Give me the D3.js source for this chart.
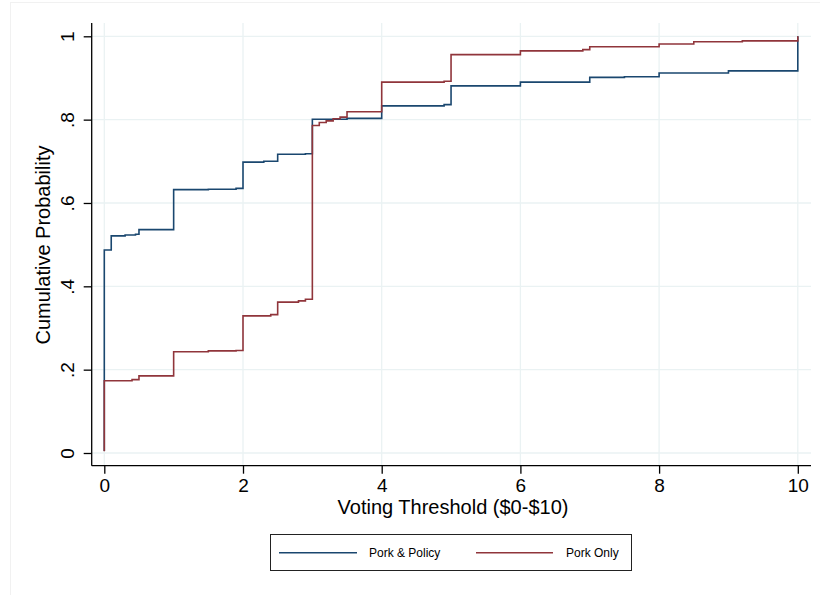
<!DOCTYPE html>
<html>
<head>
<meta charset="utf-8">
<script src="https://cdn.jsdelivr.net/npm/d3@7"></script>
<style>
  html, body { margin: 0; padding: 0; background: white; }
  svg { display: block; font-family: "Liberation Sans", Arial, Helvetica, sans-serif; }
</style>
</head>
<body>
<svg width="820" height="595"></svg>
<script>

const X_TICKS = [0, 2, 4, 6, 8, 10];
const Y_TICKS = [0, 0.2, 0.4, 0.6, 0.8, 1];
const Y_TICK_LABELS = ['0', '.2', '.4', '.6', '.8', '1'];

const SERIES_NAMES = ['Pork & Policy', 'Pork Only'];

const policyX = [0, 0, 0.1, 0.3, 0.45, 0.5, 1, 1.5, 1.9, 2, 2.3, 2.5, 2.9, 3, 3.5, 4, 4.9, 5, 6, 7, 7.5, 8, 9, 10];
const policyY = [0.005, 0.487, 0.521, 0.523, 0.525, 0.536, 0.632, 0.633, 0.635, 0.698, 0.700, 0.717, 0.718, 0.801, 0.803, 0.833, 0.836, 0.881, 0.890, 0.9015, 0.903, 0.912, 0.917, 1];

const porkX = [0, 0, 0.4, 0.5, 1, 1.5, 1.9, 2, 2.4, 2.5, 2.8, 2.9, 3, 3.1, 3.2, 3.3, 3.4, 3.5, 4, 4.9, 5, 6, 6.9, 7, 8, 8.5, 9.2, 10];
const porkY = [0.004, 0.1735, 0.176, 0.185, 0.243, 0.245, 0.246, 0.329, 0.332, 0.362, 0.365, 0.369, 0.786, 0.793, 0.797, 0.802, 0.806, 0.819, 0.890, 0.892, 0.956, 0.965, 0.968, 0.975, 0.9815, 0.987, 0.989, 1];

// === Config

const COLORS = ['#1a476f', '#90353b'];
const GRID_COLOR = '#eaf2f3';
const PLOT = { left: 91.7, right: 811, top: 23, bottom: 465.7 };

// === Main

const svg = d3.select('svg');

// faint outer graph border
svg.append('rect')
  .attr('x', 10.5).attr('y', 2.5)
  .attr('width', 820).attr('height', 600)
  .attr('fill', 'none')
  .attr('stroke', '#f1f1f1');

const x = d3.scaleLinear().domain([0, 10]).range([104.3, 797.8]);
const y = d3.scaleLinear().domain([0, 1]).range([453, 36.3]);

// grid
const grid = svg.append('g').attr('class', 'grid');
grid.selectAll('line.gx')
  .data(X_TICKS)
  .enter().append('line')
  .attr('x1', d => x(d)).attr('x2', d => x(d))
  .attr('y1', PLOT.top).attr('y2', PLOT.bottom)
  .attr('stroke', GRID_COLOR).attr('stroke-width', 1.3);
grid.selectAll('line.gy')
  .data(Y_TICKS)
  .enter().append('line')
  .attr('x1', PLOT.left).attr('x2', PLOT.right)
  .attr('y1', d => y(d)).attr('y2', d => y(d))
  .attr('stroke', GRID_COLOR).attr('stroke-width', 1.3);

// series
const series = [
  policyX.map((v, i) => [v, policyY[i]]),
  porkX.map((v, i) => [v, porkY[i]])
];
const line = d3.line()
  .x(d => x(d[0]))
  .y(d => y(d[1]))
  .curve(d3.curveStepAfter);

svg.append('g').attr('class', 'lines')
  .selectAll('path')
  .data(series)
  .enter().append('path')
  .attr('d', line)
  .attr('fill', 'none')
  .attr('stroke', (d, i) => COLORS[i])
  .attr('stroke-width', 1.6)
  .attr('stroke-linejoin', 'miter');

// axes
const xAxis = d3.axisBottom(x).tickValues(X_TICKS).tickSize(8).tickSizeOuter(0).tickPadding(5);
const yAxis = d3.axisLeft(y).tickValues(Y_TICKS).tickSize(8).tickSizeOuter(0)
  .tickFormat((d, i) => Y_TICK_LABELS[i]);

const gx = svg.append('g')
  .attr('transform', `translate(0,${PLOT.bottom})`)
  .call(xAxis);
gx.select('.domain').attr('d', `M${PLOT.left},0H${PLOT.right}`);
gx.selectAll('text')
  .attr('font-size', 19).attr('fill', '#000')
  .attr('font-family', '"Liberation Sans", Arial, sans-serif');

const gy = svg.append('g')
  .attr('transform', `translate(${PLOT.left},0)`)
  .call(yAxis);
gy.select('.domain').attr('d', `M0,${PLOT.top}V${PLOT.bottom}`);
gy.selectAll('.tick text')
  .attr('font-size', 19).attr('fill', '#000')
  .attr('font-family', '"Liberation Sans", Arial, sans-serif')
  .attr('x', null).attr('dy', null)
  .attr('text-anchor', 'middle')
  .attr('transform', 'translate(-17.5,0) rotate(-90)');

svg.selectAll('.domain, .tick line').attr('stroke', '#000').attr('stroke-width', 1.3);

// axis titles
svg.append('text')
  .attr('x', 453).attr('y', 514)
  .attr('text-anchor', 'middle')
  .attr('font-size', 20)
  .text('Voting Threshold ($0-$10)');
svg.append('text')
  .attr('transform', 'translate(50,245) rotate(-90)')
  .attr('text-anchor', 'middle')
  .attr('font-size', 20)
  .text('Cumulative Probability');

// legend
const legend = svg.append('g').attr('class', 'legend');
legend.append('rect')
  .attr('x', 270.5).attr('y', 534.5)
  .attr('width', 361).attr('height', 36)
  .attr('fill', 'white')
  .attr('stroke', '#222').attr('stroke-width', 1);
const legendItems = [
  { x1: 279, x2: 357, tx: 369 },
  { x1: 476, x2: 553, tx: 566 }
];
legendItems.forEach((it, i) => {
  legend.append('line')
    .attr('x1', it.x1).attr('x2', it.x2)
    .attr('y1', 552.7).attr('y2', 552.7)
    .attr('stroke', COLORS[i]).attr('stroke-width', 1.6);
  legend.append('text')
    .attr('x', it.tx).attr('y', 557)
    .attr('font-size', 12)
    .text(SERIES_NAMES[i]);
});
</script>
</body>
</html>
